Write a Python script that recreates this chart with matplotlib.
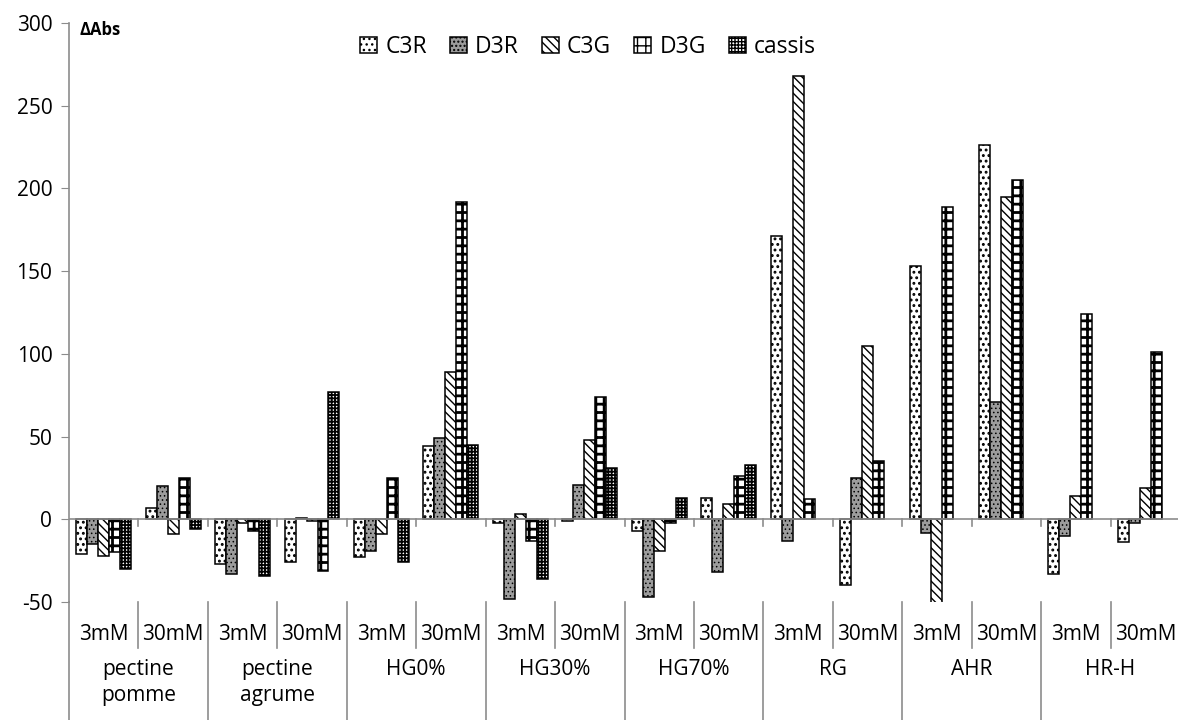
import numpy as np
import matplotlib
matplotlib.use("Agg")
import matplotlib.pyplot as plt
from matplotlib.lines import Line2D
import matplotlib.transforms as mtransforms

plt.rcParams['font.family'] = ['Open Sans', 'DejaVu Sans']
plt.rcParams['axes.unicode_minus'] = False

# ---------------- data ----------------
groups = ["pectine\npomme", "pectine\nagrume", "HG0%", "HG30%", "HG70%", "RG", "AHR", "HR-H"]
concs = ["3mM", "30mM"]
series = ["C3R", "D3R", "C3G", "D3G", "cassis"]

C3R = [-21, 7, -27, -26, -23, 44, -2, -1, -7, 13, 171, -40, 153, 226, -33, -14]
D3R = [-15, 20, -33, 1, -19, 49, -48, 21, -47, -32, -13, 25, -8, 71, -10, -2]
C3G = [-22, -9, -2, -1, -9, 89, 3, 48, -19, 9, 268, 105, -52, 195, 14, 19]
D3G = [-20, 25, -7, -31, 25, 192, -13, 74, -2, 26, 12, 35, 189, 205, 124, 101]
cassis = [-30, -6, -34, 77, -26, 45, -36, 31, 13, 33, np.nan, np.nan, np.nan, np.nan, np.nan, np.nan]

values = [C3R, D3R, C3G, D3G, cassis]

# ---------------- styles ----------------
styles = [
    dict(facecolor="white", hatch="...", hlw=1.3),
    dict(facecolor="#9c9c9c", hatch="....", hlw=0.6),
    dict(facecolor="white", hatch="\\\\\\\\", hlw=1.0),
    dict(facecolor="white", hatch="++", hlw=2.0),
    dict(facecolor="white", hatch="+++++", hlw=1.3),
]

W, H = 1178, 720
fig = plt.figure(figsize=(W / 100, H / 100), dpi=100)
ax = fig.add_axes([69 / W, 1 - 602 / H, 1111 / W, 579 / H])

n = len(C3R)
x = np.arange(n)
bw = 0.158
gray = "#8c8c8c"

handles = []
for i, (vals, st) in enumerate(zip(values, styles)):
    with plt.rc_context({'hatch.linewidth': st['hlw']}):
        bars = ax.bar(x + (i - 2) * bw, vals, width=bw, facecolor=st['facecolor'],
                      edgecolor="black", linewidth=1.1, hatch=st['hatch'], zorder=3)
        for b in bars:
            if hasattr(b, "set_hatch_linewidth"):
                b.set_hatch_linewidth(st['hlw'])
    handles.append(bars[0])

ax.set_xlim(-0.5, n - 0.5)
ax.set_ylim(-50, 300)
ax.set_yticks(np.arange(-50, 301, 50))
ax.tick_params(axis='y', direction='out', length=6, color=gray, labelsize=15, pad=6)
for s in ["top", "right", "bottom"]:
    ax.spines[s].set_visible(False)
ax.spines['left'].set_color(gray)
ax.spines['left'].set_linewidth(1.2)
ax.set_xticks([])

# zero line with boundary ticks
ax.axhline(0, color=gray, lw=1.2, zorder=4)
for k in range(1, n):
    ax.plot([k - 0.5, k - 0.5], [0, -4.2], color=gray, lw=1.2, zorder=4, clip_on=False)

# multilevel category axis below plot
trans = mtransforms.blended_transform_factory(ax.transData, ax.transAxes)
px = 1 / 579.0
for k in range(n):
    ax.text(k, -33 * px, concs[k % 2], transform=trans, ha='center', va='center', fontsize=15)
for g, name in enumerate(groups):
    ax.text(2 * g + 0.5, -57 * px, name, transform=trans, ha='center', va='top',
            fontsize=15, linespacing=1.3)
for k in range(1, n):
    if k % 2 == 1:
        ax.add_line(Line2D([k - 0.5, k - 0.5], [0, -46 * px], transform=trans,
                           color=gray, lw=1.2, clip_on=False))
    else:
        ax.add_line(Line2D([k - 0.5, k - 0.5], [0, -130 * px], transform=trans,
                           color=gray, lw=1.2, clip_on=False))
ax.add_line(Line2D([-0.5, -0.5], [0, -130 * px], transform=trans,
                   color=gray, lw=1.2, clip_on=False))

# labels
ax.text(11 / 1111, (602 - 30) / 579, "ΔAbs", transform=ax.transAxes, fontsize=12,
        fontweight='bold', ha='left', va='center')

ax.legend(handles, series, loc='center', bbox_to_anchor=((588 - 69) / 1111, (602 - 47) / 579),
          ncol=5, frameon=False, fontsize=16.5, handlelength=0.75, handleheight=0.75,
          handletextpad=0.35, columnspacing=1.0)

fig.savefig("out.png", dpi=100)
